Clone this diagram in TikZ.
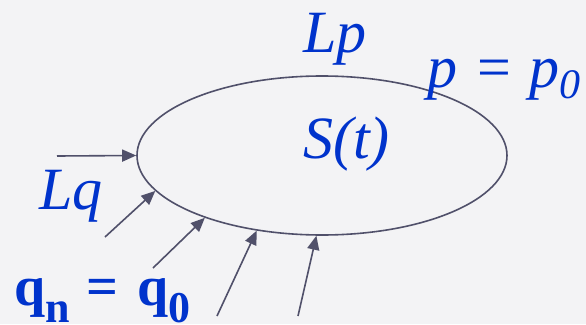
\documentclass[tikz,border=0pt]{standalone}
\usepackage{fontspec}
\setmainfont{Liberation Serif}[ItalicFont={Liberation Serif Italic},BoldFont={Liberation Serif Bold}]
\usetikzlibrary{shapes.geometric,arrows.meta}
\definecolor{bg}{HTML}{F3F3F5}
\definecolor{ln}{HTML}{50506A}
\definecolor{tx}{HTML}{0033CC}
\begin{document}
\begin{tikzpicture}[x=1pt,y=-1pt,
  lbl/.style={anchor=base west,inner sep=0pt,text=tx,font=\fontsize{60}{60}\selectfont\itshape},
  arr/.style={draw=ln,line width=1.6pt,-{Triangle[length=14pt,width=12pt]}}]
\fill[bg] (0,0) rectangle (586,324);
\useasboundingbox (0,0) rectangle (586,324);
\node[ellipse,draw=ln,line width=1.6pt,minimum width=370pt,minimum height=159pt,inner sep=0pt] (e) at (322,155.5) {};
\node[lbl] (lp) at (303,52) {Lp};
\node[lbl] (pp) at (427,87) {p\hspace{20pt}{\upshape =}\hspace{18pt}p\raisebox{-11pt}{\fontsize{42}{42}\selectfont 0}};
\node[lbl] (st) at (303,158) {S(t)};
\node[lbl] (lq) at (39,209) {Lq};
\node[lbl,font=\fontsize{56}{56}\selectfont\bfseries] (qq) at (14,305) {q\raisebox{-17pt}{\fontsize{44}{44}\selectfont n}\hspace{17pt}=\hspace{19pt}q\raisebox{-17pt}{\fontsize{44}{44}\selectfont 0}};
\coordinate (a1) at (57,156);
\coordinate (a2) at (105,237);
\coordinate (a3) at (153,268);
\coordinate (a4) at (217,316);
\coordinate (a5) at (298,316);
\draw[arr] (a1) -- (e.180);
\draw[arr] (a2) -- (e.192);
\draw[arr] (a3) -- (e.208);
\draw[arr] (a4) -- (e.229);
\draw[arr] (a5) -- (e.266);
\end{tikzpicture}
\end{document}
